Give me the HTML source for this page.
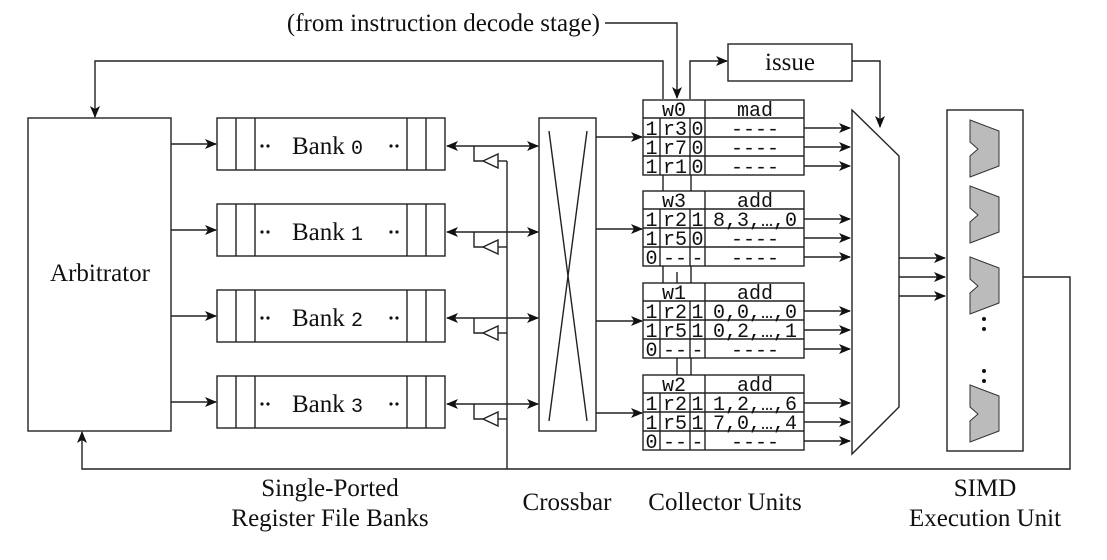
<!DOCTYPE html>
<html><head><meta charset="utf-8"><style>
html,body{margin:0;padding:0;background:#fff}
svg{display:block}
</style></head><body>
<svg width="1107" height="560" viewBox="0 0 1107 560" xmlns="http://www.w3.org/2000/svg">
<defs>
<marker id="a" markerWidth="12" markerHeight="10" refX="11" refY="5" orient="auto" markerUnits="userSpaceOnUse">
<path d="M0,0 L12,5 L0,10 L3,5 z" fill="#111"/></marker>
<marker id="b" markerWidth="12" markerHeight="10" refX="1" refY="5" orient="auto" markerUnits="userSpaceOnUse">
<path d="M12,0 L0,5 L12,10 L9,5 z" fill="#111"/></marker>
</defs>
<g stroke="#222" stroke-width="1.4" fill="none">
<rect x="28" y="118" width="143" height="313"/>
<polyline points="663,99 663,61 95,61 95,117" marker-end="url(#a)"/>
<polyline points="605,23 677,23 677,98" marker-end="url(#a)"/>
<polyline points="690,99 690,61 727,61" marker-end="url(#a)"/>
<rect x="728" y="44" width="124" height="37"/>
<polyline points="852,61 880,61 880,127" marker-end="url(#a)"/>
<polyline points="1023,277 1070,277 1070,469 82,469 82,432" marker-end="url(#a)"/>
<line x1="507" y1="161" x2="507" y2="469"/>
<g id="bank">
<rect x="217" y="118" width="228" height="52"/>
<line x1="236" y1="118" x2="236" y2="170"/><line x1="255" y1="118" x2="255" y2="170"/>
<line x1="407" y1="118" x2="407" y2="170"/><line x1="426" y1="118" x2="426" y2="170"/>
<line x1="171" y1="144" x2="216" y2="144" marker-end="url(#a)"/>
<line x1="447" y1="146" x2="538" y2="146" marker-start="url(#b)" marker-end="url(#a)"/>
<polyline points="474,146 474,161 483,161"/>
<polygon points="483,161 498,154 498,168" fill="#fff"/>
<line x1="498" y1="161" x2="507" y2="161"/>
</g>
<use href="#bank" y="86"/>
<use href="#bank" y="172"/>
<use href="#bank" y="258"/>
<rect x="539" y="118" width="57" height="313"/>
<line x1="549" y1="131" x2="587" y2="421"/>
<line x1="587" y1="131" x2="549" y2="421"/>
<line x1="596" y1="137" x2="642" y2="137" marker-end="url(#a)"/>
<line x1="596" y1="229" x2="642" y2="229" marker-end="url(#a)"/>
<line x1="596" y1="321" x2="642" y2="321" marker-end="url(#a)"/>
<line x1="596" y1="413" x2="642" y2="413" marker-end="url(#a)"/>
<g id="cu">
<rect x="643" y="100" width="161" height="75"/>
<line x1="643" y1="118" x2="804" y2="118"/><line x1="643" y1="137" x2="804" y2="137"/><line x1="643" y1="156" x2="804" y2="156"/>
<line x1="705" y1="100" x2="705" y2="175"/>
<line x1="660" y1="118" x2="660" y2="175"/><line x1="690" y1="118" x2="690" y2="175"/>
<line x1="804" y1="128" x2="850" y2="128" marker-end="url(#a)"/>
<line x1="804" y1="147" x2="850" y2="147" marker-end="url(#a)"/>
<line x1="804" y1="166" x2="850" y2="166" marker-end="url(#a)"/>
</g>
<use href="#cu" y="91"/>
<use href="#cu" y="183"/>
<use href="#cu" y="275"/>
<line x1="663" y1="175" x2="663" y2="191"/><line x1="691" y1="175" x2="691" y2="191"/>
<line x1="663" y1="266" x2="663" y2="283"/><line x1="677" y1="272" x2="677" y2="283"/><line x1="691" y1="266" x2="691" y2="283"/>
<line x1="677" y1="358" x2="677" y2="375"/><line x1="691" y1="358" x2="691" y2="375"/>
<polygon points="852,110 899,156 899,407 852,454" fill="#fff"/>
<line x1="899" y1="258" x2="945" y2="258" marker-end="url(#a)"/>
<line x1="899" y1="277" x2="945" y2="277" marker-end="url(#a)"/>
<line x1="899" y1="296" x2="945" y2="296" marker-end="url(#a)"/>
<rect x="947" y="110" width="76" height="341"/>
</g>
<g fill="#bbb" stroke="#333" stroke-width="1">
<polygon id="alu" points="970,120 999,131 999,166 970,177 970,156 978,149 970,142"/>
<use href="#alu" y="66"/>
<use href="#alu" y="137"/>
<use href="#alu" y="265"/>
</g>
<g fill="#111">
<circle cx="984" cy="319" r="2"/><circle cx="984" cy="329" r="2"/>
<circle cx="984" cy="371" r="2"/><circle cx="984" cy="381" r="2"/>
</g>
<g font-family="'Liberation Serif','DejaVu Serif',serif" font-size="25" fill="#111">
<text x="100" y="281" text-anchor="middle">Arbitrator</text>
<text x="600" y="31" text-anchor="end">(from instruction decode stage)</text>
<text x="790" y="70" text-anchor="middle">issue</text>
<text x="330" y="496" text-anchor="middle">Single-Ported</text>
<text x="330" y="526" text-anchor="middle">Register File Banks</text>
<text x="567" y="510" text-anchor="middle">Crossbar</text>
<text x="725" y="510" text-anchor="middle">Collector Units</text>
<text x="985" y="496" text-anchor="middle">SIMD</text>
<text x="985" y="526" text-anchor="middle">Execution Unit</text>
<text x="292" y="154">Bank <tspan font-family="'Liberation Mono',monospace" font-size="20">0</tspan></text>
<text x="292" y="240">Bank <tspan font-family="'Liberation Mono',monospace" font-size="20">1</tspan></text>
<text x="292" y="326">Bank <tspan font-family="'Liberation Mono',monospace" font-size="20">2</tspan></text>
<text x="292" y="412">Bank <tspan font-family="'Liberation Mono',monospace" font-size="20">3</tspan></text>
</g>
<g fill="#111">
<circle cx="262" cy="146" r="1.6"/><circle cx="268" cy="146" r="1.6"/><circle cx="391" cy="146" r="1.6"/><circle cx="397" cy="146" r="1.6"/>
<circle cx="262" cy="232" r="1.6"/><circle cx="268" cy="232" r="1.6"/><circle cx="391" cy="232" r="1.6"/><circle cx="397" cy="232" r="1.6"/>
<circle cx="262" cy="318" r="1.6"/><circle cx="268" cy="318" r="1.6"/><circle cx="391" cy="318" r="1.6"/><circle cx="397" cy="318" r="1.6"/>
<circle cx="262" cy="404" r="1.6"/><circle cx="268" cy="404" r="1.6"/><circle cx="391" cy="404" r="1.6"/><circle cx="397" cy="404" r="1.6"/>
</g>
<g font-family="'Liberation Mono',monospace" font-size="20" fill="#111" text-anchor="middle">
<text x="674" y="116">w0</text><text x="755" y="116">mad</text>
<text x="651.5" y="135">1</text><text x="675" y="135">r3</text><text x="697.5" y="135">0</text><text x="755" y="135">----</text>
<text x="651.5" y="154">1</text><text x="675" y="154">r7</text><text x="697.5" y="154">0</text><text x="755" y="154">----</text>
<text x="651.5" y="173">1</text><text x="675" y="173">r1</text><text x="697.5" y="173">0</text><text x="755" y="173">----</text>

<text x="674" y="207">w3</text><text x="755" y="207">add</text>
<text x="651.5" y="226">1</text><text x="675" y="226">r2</text><text x="697.5" y="226">1</text><text x="755" y="226">8,3,…,0</text>
<text x="651.5" y="245">1</text><text x="675" y="245">r5</text><text x="697.5" y="245">0</text><text x="755" y="245">----</text>
<text x="651.5" y="264">0</text><text x="675" y="264">--</text><text x="697.5" y="264">-</text><text x="755" y="264">----</text>

<text x="674" y="299">w1</text><text x="755" y="299">add</text>
<text x="651.5" y="318">1</text><text x="675" y="318">r2</text><text x="697.5" y="318">1</text><text x="755" y="318">0,0,…,0</text>
<text x="651.5" y="337">1</text><text x="675" y="337">r5</text><text x="697.5" y="337">1</text><text x="755" y="337">0,2,…,1</text>
<text x="651.5" y="356">0</text><text x="675" y="356">--</text><text x="697.5" y="356">-</text><text x="755" y="356">----</text>

<text x="674" y="391">w2</text><text x="755" y="391">add</text>
<text x="651.5" y="410">1</text><text x="675" y="410">r2</text><text x="697.5" y="410">1</text><text x="755" y="410">1,2,…,6</text>
<text x="651.5" y="429">1</text><text x="675" y="429">r5</text><text x="697.5" y="429">1</text><text x="755" y="429">7,0,…,4</text>
<text x="651.5" y="448">0</text><text x="675" y="448">--</text><text x="697.5" y="448">-</text><text x="755" y="448">----</text>
</g>
</svg>
</body></html>
